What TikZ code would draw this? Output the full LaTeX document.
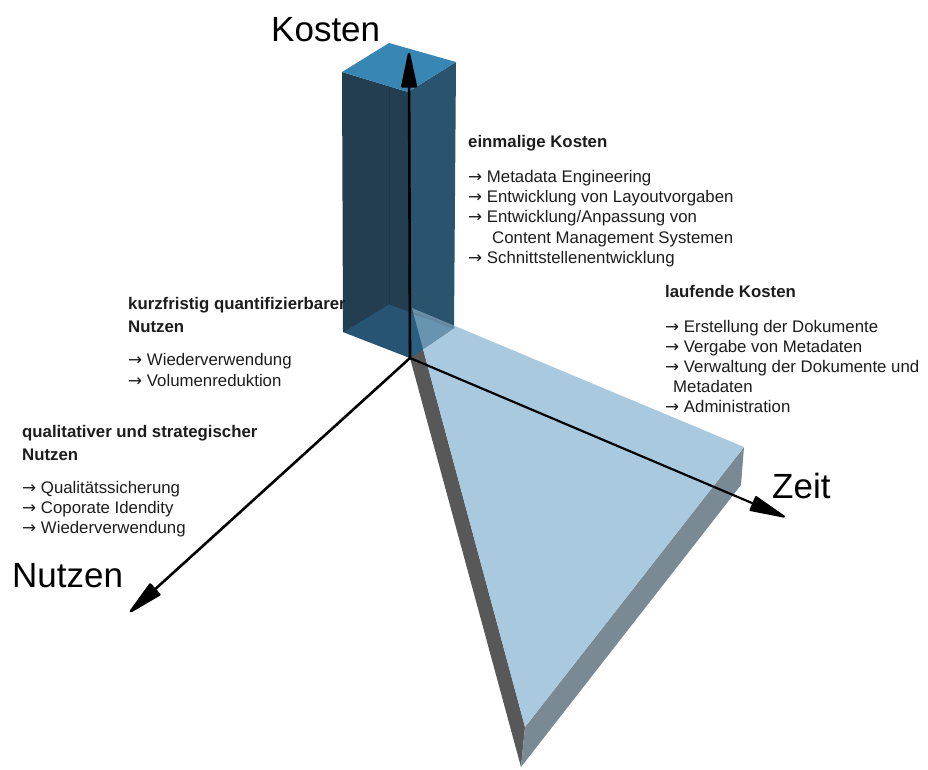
\documentclass[tikz,border=0pt]{standalone}
\usepackage{fontspec}
\setmainfont{Liberation Sans}
\newfontfamily\arrowfont{DejaVu Sans}
\usetikzlibrary{arrows.meta}

\definecolor{slabtop}{HTML}{A9C9DF}
\definecolor{slableft}{HTML}{585858}
\definecolor{slabright}{HTML}{7A8A94}
\definecolor{piltop}{HTML}{3886B4}
\definecolor{pilleft}{HTML}{243E51}
\definecolor{pilright}{HTML}{2A536E}
\definecolor{pilbase}{HTML}{2C6F9C}
\definecolor{txtgray}{HTML}{1C1C1C}

% list bullet: a plain arrow followed by a space
\newcommand{\itemarrow}{{\arrowfont →}\ }

\begin{document}
\begin{tikzpicture}[x=1pt,y=-1pt,
  body/.style={anchor=base west, inner sep=0pt, text=txtgray,
    font=\fontsize{16.8}{20}\selectfont},
  head/.style={body, font=\fontsize{16.8}{20}\selectfont\bfseries},
  axlabel/.style={anchor=base west, inner sep=0pt,
    font=\fontsize{35}{40}\selectfont},
  axis/.style={line width=2.6pt, black,
    -{Triangle[length=40pt,width=16pt,round]}},
  hidden/.style={draw=black, draw opacity=0.12, line width=0.8pt}]
\useasboundingbox (0,0) rectangle (928,769);

% ---- triangular slab (time) ----
\coordinate (A)  at (412,308);
\coordinate (B)  at (744,447);
\coordinate (C)  at (525,727);
\coordinate (A2) at (407,347);
\coordinate (B2) at (741,485);
\coordinate (C2) at (521,767);
\fill[slableft]  (A) -- (C) -- (C2) -- (A2) -- cycle;
\fill[slabright] (B) -- (C) -- (C2) -- (B2) -- cycle;
\fill[slabtop]   (A) -- (B) -- (C) -- cycle;

% ---- cost pillar ----
\coordinate (L)  at (342,72);
\coordinate (K)  at (389,43);
\coordinate (R)  at (456,62);
\coordinate (F)  at (408,92);
\coordinate (L2) at (343,332);
\coordinate (K2) at (389,304);
\coordinate (R2) at (454,328);
\coordinate (F2) at (410,358);
\fill[pilleft]  (L) -- (F) -- (F2) -- (L2) -- cycle;
\fill[pilright] (F) -- (R) -- (R2) -- (F2) -- cycle;
\fill[piltop]   (L) -- (K) -- (R) -- (F) -- cycle;
% base of the pillar seen through its walls
\fill[pilbase, opacity=0.45] (L2) -- (K2) -- (R2) -- (F2) -- cycle;
% slab seen through the pillar
\begin{scope}
  \clip (L) -- (K) -- (R) -- (R2) -- (F2) -- (L2) -- cycle;
  \fill[slabtop, opacity=0.5] (A) -- (B) -- (C) -- cycle;
\end{scope}
\coordinate (Kin) at (389,86);
\draw[hidden] (Kin) -- (K2);
\draw[hidden] (L2) -- (K2) -- (R2);

% ---- axes ----
\coordinate (O)    at (410,358);
\coordinate (kTip) at (409,53);
\coordinate (zTip) at (785,517);
\coordinate (nTip) at (130,612);
\draw[axis] (O) -- (kTip);
\draw[axis, line width=2.2pt] (O) -- (zTip);
\draw[axis] (O) -- (nTip);

% ---- axis labels ----
\node[axlabel] (kosten) at (271,41)  {Kosten};
\node[axlabel] (zeit)   at (772,498) {Zeit};
\node[axlabel] (nutzen) at (12,587)  {Nutzen};

% ---- one-off costs ----
\node[head] (ek)  at (468,147) {einmalige Kosten};
\node[body] (ek1) at (468,182) {\itemarrow Metadata Engineering};
\node[body] (ek2) at (468,202) {\itemarrow Entwicklung von Layoutvorgaben};
\node[body] (ek3) at (468,222) {\itemarrow Entwicklung/Anpassung von};
\node[body] (ek4) at (492,243) {Content Management Systemen};
\node[body] (ek5) at (468,263) {\itemarrow Schnittstellenentwicklung};

% ---- running costs ----
\node[head] (lk)  at (665,297) {laufende Kosten};
\node[body] (lk1) at (665,332) {\itemarrow Erstellung der Dokumente};
\node[body] (lk2) at (665,352) {\itemarrow Vergabe von Metadaten};
\node[body] (lk3) at (665,372) {\itemarrow Verwaltung der Dokumente und};
\node[body] (lk4) at (673,392) {Metadaten};
\node[body] (lk5) at (665,412) {\itemarrow Administration};

% ---- short-term benefit ----
\node[head] (kn)  at (128,309) {kurzfristig quantifizierbarer};
\node[head] (kn2) at (128,332) {Nutzen};
\node[body] (kn3) at (128,365) {\itemarrow Wiederverwendung};
\node[body] (kn4) at (128,386) {\itemarrow Volumenreduktion};

% ---- strategic benefit ----
\node[head] (qn)  at (22,437) {qualitativer und strategischer};
\node[head] (qn2) at (22,460) {Nutzen};
\node[body] (qn3) at (22,493) {\itemarrow Qualitätssicherung};
\node[body] (qn4) at (22,513) {\itemarrow Coporate Idendity};
\node[body] (qn5) at (22,533) {\itemarrow Wiederverwendung};
\end{tikzpicture}
\end{document}
